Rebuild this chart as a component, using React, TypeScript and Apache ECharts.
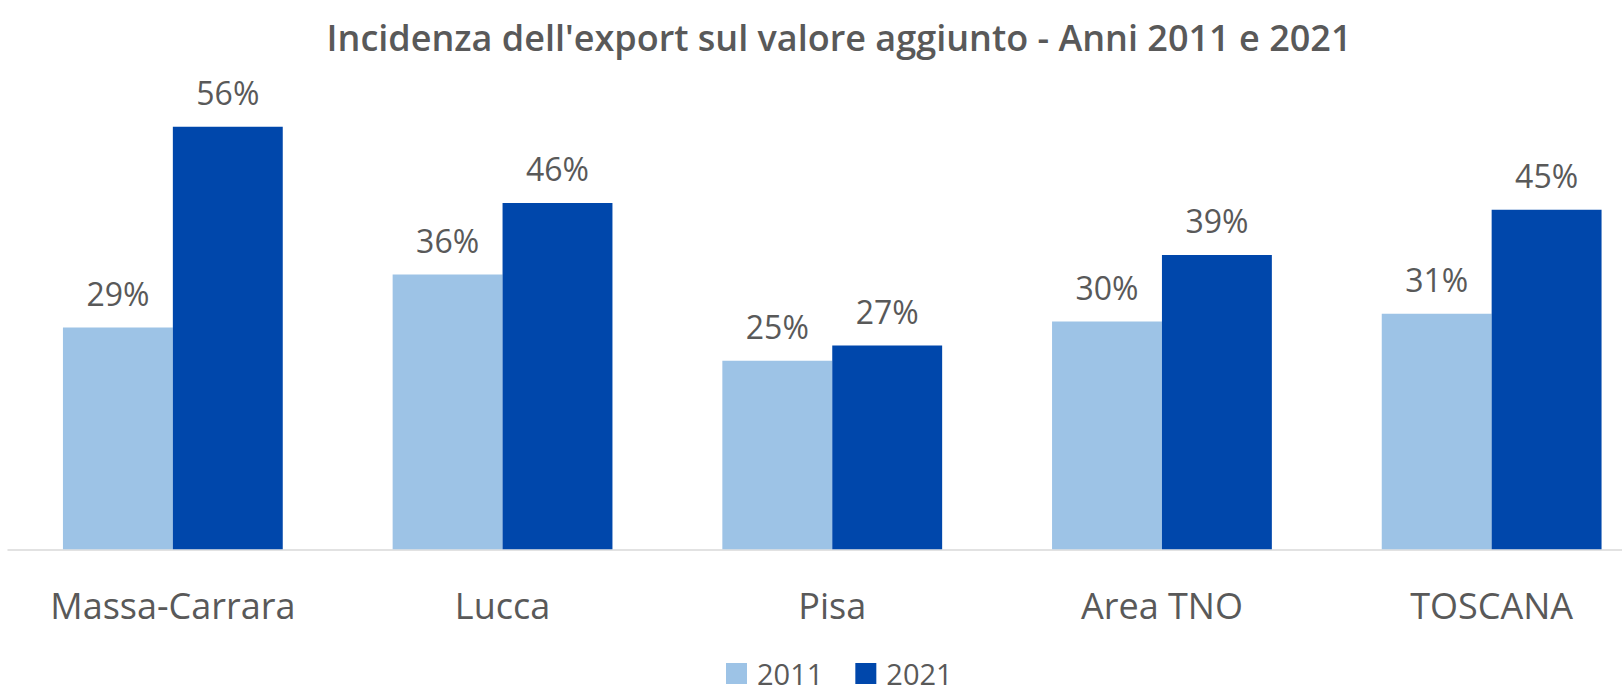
import React, { useEffect, useRef } from "react";
import * as echarts from "echarts";

const categories = ["Massa-Carrara", "Lucca", "Pisa", "Area TNO", "TOSCANA"];
const seriesNames = ["2011", "2021"];
const values2011 = [29.4, 36.4, 25.0, 30.2, 31.2];
const values2021 = [56.0, 45.9, 27.0, 39.0, 45.0];
const titleText = "Incidenza dell'export sul valore aggiunto - Anni 2011 e 2021";

const FONT = "'Open Sans', 'Noto Sans', sans-serif";
const TEXT_COLOR = "#595959";

export default function App() {
  const ref = useRef<HTMLDivElement>(null);

  useEffect(() => {
    if (!ref.current) return;
    const chart = echarts.init(ref.current, null, { renderer: "svg" });
    const labelCfg = {
      show: true,
      position: "top",
      distance: 18,
      color: TEXT_COLOR,
      fontFamily: FONT,
      fontSize: 32,
      formatter: (p: any) => Math.round(p.value) + "%",
    };
    chart.setOption({
      animation: false,
      backgroundColor: "#ffffff",
      title: {
        text: titleText,
        left: 834,
        textAlign: "center",
        top: 14,
        textStyle: {
          fontFamily: FONT,
          fontWeight: 600,
          fontSize: 36,
          color: TEXT_COLOR,
        },
      },
      legend: {
        data: seriesNames,
        left: 726,
        top: 659,
        itemWidth: 21,
        itemHeight: 21,
        itemGap: 32,
        icon: "rect",
        padding: 0,
        textStyle: {
          fontFamily: FONT,
          fontSize: 29,
          lineHeight: 29,
          color: TEXT_COLOR,
          padding: [0, 0, 0, 5],
        },
      },
      grid: {
        left: 8,
        width: 1648.5,
        top: 96.5,
        height: 452.8,
        containLabel: false,
        outerBoundsMode: "none",
      },
      xAxis: {
        type: "category",
        data: categories,
        axisLine: { show: true, lineStyle: { color: "#d9d9d9", width: 1.5 } },
        axisTick: { show: false },
        axisLabel: {
          color: TEXT_COLOR,
          fontFamily: FONT,
          fontSize: 36,
          margin: 38,
        },
      },
      yAxis: {
        type: "value",
        min: 0,
        max: 60,
        show: false,
        splitLine: { show: false },
      },
      series: [
        {
          name: seriesNames[0],
          type: "bar",
          data: values2011,
          barGap: "0%",
          barCategoryGap: "33.33%",
          itemStyle: { color: "#9DC3E6" },
          label: labelCfg,
        },
        {
          name: seriesNames[1],
          type: "bar",
          data: values2021,
          barGap: "0%",
          barCategoryGap: "33.33%",
          itemStyle: { color: "#0047AB" },
          label: labelCfg,
        },
      ],
    });
    return () => chart.dispose();
  }, []);

  return (
    <div
      ref={ref}
      style={{ position: "fixed", left: 0, top: 0, width: 1622, height: 689, background: "#fff" }}
    />
  );
}
